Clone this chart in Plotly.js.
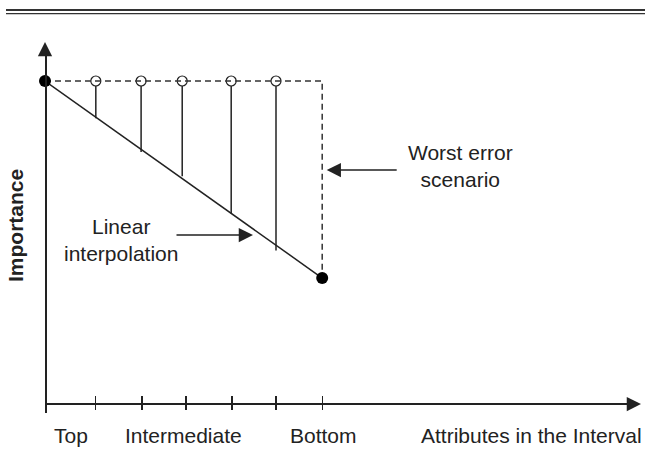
<!DOCTYPE html>
<html>
<head>
<meta charset="utf-8">
<script src="https://cdn.plot.ly/plotly-3.0.1.min.js"></script>
<style>html,body{margin:0;padding:0;background:#fff;}</style>
</head>
<body>
<div id="chart" style="width:645px;height:465px;"></div>
<script>
// ---- data ----
const attributeTicks = [1.1, 2.1, 3.05, 4.05, 5.0, 6.0];
const endpointX = [0, 6];
const endpointImportance = [10, 3.9];
const probeX = [1.1, 2.08, 2.97, 4.03, 5.0];
const probeActual = [10, 10, 10, 10, 10];
const probeInterpolated = [8.85, 7.8, 7.05, 5.9, 4.75];
const worstX = [0, 6, 6];
const worstImportance = [10, 10, 3.9];
const axisLabels = ['Top', 'Intermediate', 'Bottom', 'Attributes in the Interval'];
const axisLabelX = [0.56, 3.0, 6.02, 10.54];

// ---- geometry (pixels) ----
const W = 645, H = 465;
const originX = 45, originY = 404, unitX = 46.2, unitY = 32.3;
const plotRight = 627, plotTop = 55, plotBottom = 413;
const INK = '#222';
const FONT = 'Liberation Sans, Arial, Helvetica, sans-serif';
const px = v => v / W;
const py = v => 1 - v / H;

const stemX = [], stemY = [];
probeX.forEach((x, i) => {
  stemX.push(x, x, null);
  stemY.push(probeInterpolated[i], probeActual[i], null);
});

const traces = [
  { x: endpointX, y: endpointImportance, mode: 'lines', type: 'scatter',
    line: { color: INK, width: 1.5 }, cliponaxis: false, hoverinfo: 'skip' },
  { x: stemX, y: stemY, mode: 'lines', type: 'scatter',
    line: { color: INK, width: 1.5 }, cliponaxis: false, hoverinfo: 'skip' },
  { x: probeX, y: probeActual, mode: 'markers', type: 'scatter',
    marker: { symbol: 'circle', size: 10, color: '#fff', line: { color: INK, width: 1.2 } },
    cliponaxis: false, hoverinfo: 'skip' },
  { x: worstX, y: worstImportance, mode: 'lines', type: 'scatter',
    line: { color: '#333', width: 1.5, dash: '6px,4px' }, cliponaxis: false, hoverinfo: 'skip' },
  { x: endpointX, y: endpointImportance, mode: 'markers', type: 'scatter',
    marker: { symbol: 'circle', size: 12, color: '#000' }, cliponaxis: false, hoverinfo: 'skip' }
];

const arrowStyle = { text: '', showarrow: true, arrowhead: 2, arrowsize: 1.9, arrowwidth: 1.5, arrowcolor: INK, axref: 'pixel', ayref: 'pixel' };
const textFont = { family: FONT, size: 21, color: INK };

const annotations = [
  // axis arrowheads
  Object.assign({}, arrowStyle, { xref: 'paper', yref: 'paper', x: px(45), y: py(42), ax: 0, ay: 15 }),
  Object.assign({}, arrowStyle, { xref: 'paper', yref: 'paper', x: px(641), y: py(404), ax: -17, ay: 0 }),
  // callout arrows
  Object.assign({}, arrowStyle, { xref: 'x', yref: 'y', x: 6, y: (originY - 170) / unitY, ax: 76, ay: 0, standoff: 4.5 }),
  Object.assign({}, arrowStyle, { xref: 'x', yref: 'y', x: (253 - originX) / unitX, y: (originY - 235) / unitY, ax: -78, ay: 0 }),
  // callout texts
  { xref: 'paper', yref: 'paper', x: px(460), y: py(166), xanchor: 'center', yanchor: 'middle',
    text: 'Worst error<br>scenario', showarrow: false, align: 'center', font: textFont },
  { xref: 'paper', yref: 'paper', x: px(121), y: py(240), xanchor: 'center', yanchor: 'middle',
    text: 'Linear<br>interpolation', showarrow: false, align: 'center', font: textFont },
  // y title
  { xref: 'paper', yref: 'paper', x: px(15), y: py(226), xanchor: 'center', yanchor: 'middle',
    text: '<b>Importance</b>', textangle: -90, showarrow: false, font: textFont }
];
axisLabels.forEach((t, i) => {
  annotations.push({ xref: 'x', yref: 'paper', x: axisLabelX[i], y: py(435), xanchor: 'center', yanchor: 'middle',
    text: t, showarrow: false, font: textFont });
});

const layout = {
  width: W, height: H, autosize: false,
  margin: { l: 0, r: 0, t: 0, b: 0, pad: 0 },
  paper_bgcolor: '#fff', plot_bgcolor: 'rgba(0,0,0,0)',
  showlegend: false,
  xaxis: {
    domain: [px(originX), px(plotRight)], range: [0, (plotRight - originX) / unitX],
    anchor: 'free', position: py(395),
    showline: false, showgrid: false, zeroline: false,
    ticks: 'outside', ticklen: 14, tickwidth: 1.3, tickcolor: INK,
    tickmode: 'array', tickvals: attributeTicks, showticklabels: false, fixedrange: true
  },
  yaxis: {
    domain: [py(plotBottom), py(plotTop)],
    range: [(originY - plotBottom) / unitY, (originY - plotTop) / unitY],
    anchor: 'free', position: px(originX),
    showline: true, linecolor: INK, linewidth: 1.5,
    showgrid: false, zeroline: true, zerolinecolor: INK, zerolinewidth: 1.5,
    ticks: '', showticklabels: false, fixedrange: true
  },
  shapes: [
    { type: 'line', xref: 'paper', yref: 'paper', x0: px(6), x1: 1, y0: py(10), y1: py(10), line: { color: '#333', width: 2 } },
    { type: 'line', xref: 'paper', yref: 'paper', x0: px(6), x1: 1, y0: py(13.6), y1: py(13.6), line: { color: '#333', width: 1.1 } }
  ],
  annotations: annotations
};

Plotly.newPlot('chart', traces, layout, { staticPlot: true, displayModeBar: false });
</script>
</body>
</html>
